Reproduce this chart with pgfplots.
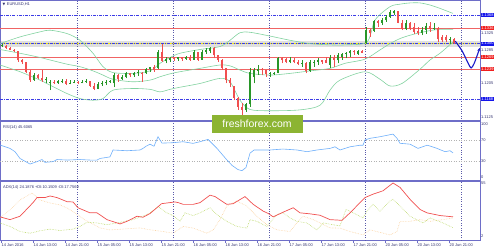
\documentclass[border=0pt]{standalone}
\usepackage{fontspec}
\setmainfont{Liberation Sans}
\newfontfamily\dejavu{DejaVu Sans}
\usepackage{pgfplots}
\pgfplotsset{compat=1.18}
\usepackage{pgfplotstable}
\usetikzlibrary{arrows.meta}

\definecolor{frame}{RGB}{110,110,200}
\definecolor{gridc}{RGB}{90,90,170}
\definecolor{lvlblue}{RGB}{60,60,230}
\definecolor{boxblue}{RGB}{20,20,235}
\definecolor{lvlred}{RGB}{240,100,100}
\definecolor{boxred}{RGB}{240,30,30}
\definecolor{band}{RGB}{130,210,160}
\definecolor{cup}{RGB}{40,150,40}
\definecolor{cdn}{RGB}{240,80,80}
\definecolor{rsic}{RGB}{110,175,250}
\definecolor{adxc}{RGB}{240,80,80}
\definecolor{pdi}{RGB}{185,215,100}
\definecolor{mdi}{RGB}{250,210,160}
\definecolor{txt}{RGB}{50,50,110}
\definecolor{wm}{RGB}{140,180,50}
\definecolor{arrowc}{RGB}{25,25,200}

\def\lbl{\fontsize{4}{4.5}\selectfont}

\pgfplotstableread{
i o h l c
0 1.1294 1.1300 1.1291 1.1297
8 1.1213 1.1229 1.1211 1.1225
11 1.1213 1.1221 1.1205 1.1216
12 1.1205 1.1213 1.1189 1.1208
14 1.1206 1.1214 1.1204 1.1210
15 1.1210 1.1216 1.1205 1.1212
17 1.1204 1.1213 1.1203 1.1207
18 1.1207 1.1213 1.1205 1.1209
20 1.1206 1.1213 1.1205 1.1209
21 1.1209 1.1215 1.1206 1.1211
24 1.1192 1.1209 1.1191 1.1203
25 1.1203 1.1211 1.1200 1.1207
26 1.1207 1.1213 1.1201 1.1209
27 1.1209 1.1214 1.1205 1.1212
28 1.1205 1.1229 1.1196 1.1226
30 1.1216 1.1225 1.1213 1.1220
31 1.1220 1.1233 1.1217 1.1229
33 1.1224 1.1233 1.1221 1.1230
34 1.1230 1.1237 1.1223 1.1232
36 1.1229 1.1241 1.1227 1.1240
37 1.1240 1.1245 1.1233 1.1244
39 1.1241 1.1285 1.1240 1.1280
41 1.1259 1.1269 1.1253 1.1264
42 1.1262 1.1267 1.1256 1.1266
44 1.1263 1.1269 1.1259 1.1267
46 1.1264 1.1270 1.1261 1.1268
48 1.1261 1.1285 1.1261 1.1280
50 1.1262 1.1285 1.1261 1.1280
51 1.1280 1.1289 1.1275 1.1285
52 1.1283 1.1292 1.1277 1.1290
61 1.1142 1.1158 1.1138 1.1155
62 1.1155 1.1241 1.1150 1.1232
63 1.1220 1.1241 1.1205 1.1237
64 1.1235 1.1249 1.1226 1.1240
67 1.1228 1.1233 1.1221 1.1230
68 1.1228 1.1233 1.1225 1.1231
69 1.1231 1.1269 1.1229 1.1265
72 1.1256 1.1269 1.1253 1.1262
75 1.1251 1.1261 1.1245 1.1254
77 1.1235 1.1261 1.1233 1.1255
78 1.1255 1.1261 1.1245 1.1257
79 1.1257 1.1265 1.1249 1.1260
82 1.1250 1.1273 1.1241 1.1265
84 1.1260 1.1277 1.1253 1.1272
85 1.1268 1.1277 1.1261 1.1275
86 1.1275 1.1281 1.1265 1.1278
87 1.1278 1.1285 1.1269 1.1282
89 1.1276 1.1285 1.1273 1.1283
91 1.1302 1.1340 1.1300 1.1332
93 1.1330 1.1356 1.1328 1.1353
95 1.1350 1.1360 1.1344 1.1356
96 1.1356 1.1368 1.1352 1.1364
97 1.1364 1.1380 1.1362 1.1375
98 1.1372 1.1381 1.1369 1.1378
101 1.1336 1.1356 1.1332 1.1348
105 1.1326 1.1340 1.1320 1.1333
106 1.1333 1.1348 1.1324 1.1342
108 1.1334 1.1348 1.1332 1.1338
112 1.1308 1.1316 1.1300 1.1310
}\upc

\pgfplotstableread{
i o h l c
1 1.1295 1.1297 1.1288 1.1290
2 1.1290 1.1292 1.1284 1.1285
3 1.1285 1.1288 1.1280 1.1282
4 1.1282 1.1283 1.1257 1.1260
5 1.1260 1.1263 1.1251 1.1255
6 1.1255 1.1256 1.1229 1.1233
7 1.1233 1.1237 1.1209 1.1213
9 1.1225 1.1227 1.1215 1.1219
10 1.1219 1.1237 1.1209 1.1213
13 1.1208 1.1213 1.1203 1.1206
16 1.1212 1.1215 1.1202 1.1204
19 1.1209 1.1211 1.1203 1.1206
22 1.1211 1.1212 1.1197 1.1199
23 1.1199 1.1205 1.1189 1.1192
29 1.1226 1.1228 1.1209 1.1216
32 1.1229 1.1231 1.1221 1.1224
35 1.1231 1.1232 1.1209 1.1229
38 1.1244 1.1249 1.1233 1.1236
40 1.1280 1.1300 1.1257 1.1259
43 1.1266 1.1267 1.1259 1.1263
45 1.1267 1.1268 1.1259 1.1264
47 1.1268 1.1273 1.1259 1.1261
49 1.1280 1.1281 1.1259 1.1262
53 1.1290 1.1292 1.1265 1.1272
54 1.1272 1.1273 1.1257 1.1262
55 1.1262 1.1263 1.1237 1.1241
56 1.1241 1.1241 1.1205 1.1213
57 1.1213 1.1217 1.1197 1.1205
58 1.1199 1.1200 1.1165 1.1170
59 1.1170 1.1173 1.1142 1.1150
60 1.1150 1.1158 1.1130 1.1142
65 1.1240 1.1241 1.1226 1.1236
66 1.1236 1.1237 1.1221 1.1228
70 1.1265 1.1269 1.1253 1.1262
71 1.1264 1.1265 1.1253 1.1256
73 1.1262 1.1265 1.1253 1.1256
74 1.1256 1.1262 1.1249 1.1251
76 1.1254 1.1257 1.1229 1.1235
80 1.1260 1.1261 1.1251 1.1256
81 1.1262 1.1267 1.1253 1.1254
83 1.1265 1.1273 1.1245 1.1262
88 1.1282 1.1285 1.1273 1.1280
90 1.1283 1.1285 1.1277 1.1278
92 1.1332 1.1336 1.1316 1.1326
94 1.1353 1.1356 1.1340 1.1350
99 1.1378 1.1378 1.1348 1.1350
100 1.1350 1.1356 1.1332 1.1336
102 1.1348 1.1352 1.1332 1.1335
103 1.1340 1.1348 1.1324 1.1328
104 1.1330 1.1340 1.1320 1.1326
107 1.1342 1.1352 1.1328 1.1334
109 1.1338 1.1340 1.1304 1.1310
110 1.1315 1.1320 1.1304 1.1308
111 1.1316 1.1320 1.1304 1.1308
113 1.1312 1.1314 1.1300 1.1302
}\dnc

\pgfplotsset{
  panel/.style={scale only axis, width=480bp, xmin=-0.5, xmax=119.5,
    anchor=south west, clip mode=individual,
    axis line style={draw=frame, line width=0.8bp},
    xtick={18.75,42.75,66.75,90.75,114.75}, xticklabels={},
    xmajorgrids, major grid style={draw=gridc, dotted, line width=0.5bp},
    ytick=\empty, major tick length=0pt},
  lvlb/.style={draw=lvlblue, line width=0.8bp, dash pattern=on 3bp off 1.2bp on 0.8bp off 1.2bp, forget plot},
  lvlr/.style={draw=lvlred, line width=0.8bp, forget plot},
  bandl/.style={draw=band, line width=0.6bp, smooth, forget plot},
}
\tikzset{
  boxl/.style={anchor=west, text=white, font=\lbl, inner sep=0.7bp},
  axl/.style={anchor=west, text=txt, font=\lbl, inner sep=0.5bp},
}

\begin{document}
\begin{tikzpicture}
\useasboundingbox (0,0) rectangle (500bp,250bp);

% ---------------- main price panel ----------------
\begin{axis}[panel, at={(0bp,129bp)}, height=121bp, ymin=1.11155, ymax=1.1404]
\addplot[draw=gray, opacity=0.25, line width=6bp, forget plot] coordinates {(-0.5,1.1300) (119.5,1.1300)};
\addplot[draw=yellow, line width=1.4bp, forget plot] coordinates {(-0.5,1.1300) (119.5,1.1300)};
\addplot[lvlb] coordinates {(-0.5,1.1301) (119.5,1.1301)};
\addplot[lvlb] coordinates {(-0.5,1.1368) (119.5,1.1368)};
\addplot[lvlb] coordinates {(-0.5,1.1168) (119.5,1.1168)};
\addplot[lvlr] coordinates {(-0.5,1.1337) (119.5,1.1337)};
\addplot[lvlr] coordinates {(-0.5,1.1268) (119.5,1.1268)};
\addplot[lvlr] coordinates {(-0.5,1.1239) (119.5,1.1239)};
% Bollinger bands
\addplot[bandl] coordinates {(-0.5,1.1300)(4.5,1.1316)(9.5,1.1328)(12,1.1332)(16.25,1.1324)(19.5,1.1308)(22.75,1.1277)(25.25,1.1245)(27.75,1.1231)(32.75,1.1229)(37,1.1235)(39.5,1.1253)(42,1.1267)(44.5,1.1277)(49.5,1.1286)(54.5,1.1293)(57,1.1308)(59.5,1.1326)(62,1.1327)(67,1.1318)(72,1.1308)(77,1.1300)(82,1.1297)(85.75,1.1297)(91.25,1.1304)(93.25,1.1356)(97,1.1388)(99.5,1.1394)(102,1.1397)(104.5,1.1397)(107,1.1392)(109.5,1.1384)(112.75,1.1372)};
\addplot[bandl] coordinates {(-0.5,1.1286)(4.5,1.1277)(9.5,1.1267)(12,1.1261)(16.25,1.1251)(19.5,1.1245)(22.75,1.1235)(25.25,1.1225)(27.75,1.1215)(32.75,1.1209)(37,1.1213)(39.5,1.1221)(42,1.1228)(44.5,1.1233)(49.5,1.1241)(54.5,1.1249)(57,1.1247)(59.5,1.1237)(62,1.1229)(67,1.1225)(72,1.1229)(77,1.1235)(82,1.1241)(85.75,1.1253)(90.75,1.1263)(94.5,1.1285)(97,1.1300)(99.5,1.1312)(102,1.1320)(104.5,1.1326)(107,1.1331)(109.5,1.1334)(112.75,1.1334)};
\addplot[bandl] coordinates {(-0.5,1.1249)(4.5,1.1233)(9.5,1.1213)(12,1.1201)(16.25,1.1181)(19.5,1.1169)(22.75,1.1165)(25.25,1.1169)(27.75,1.1189)(32.75,1.1193)(37,1.1191)(39.5,1.1185)(42,1.1191)(44.5,1.1196)(49.5,1.1205)(54.5,1.1217)(57,1.1209)(59.5,1.1165)(62,1.1143)(67,1.1140)(74.5,1.1142)(79.5,1.1153)(82,1.1189)(84.5,1.1213)(90.75,1.1233)(94.5,1.1215)(97,1.1199)(100,1.1205)(104.5,1.1239)(107,1.1261)(109.5,1.1277)(112.75,1.1304)};
% candles: wicks
\addplot[draw=none, mark=none, forget plot, error bars/.cd, y dir=plus, y explicit, error mark=none,
  error bar style={draw=cup, line width=0.55bp}] table[x=i, y=l, y error expr=\thisrow{h}-\thisrow{l}] {\upc};
\addplot[draw=none, mark=none, forget plot, error bars/.cd, y dir=plus, y explicit, error mark=none,
  error bar style={draw=cdn, line width=0.55bp}] table[x=i, y=l, y error expr=\thisrow{h}-\thisrow{l}] {\dnc};
% candles: bodies
\addplot[draw=none, mark=none, forget plot, error bars/.cd, y dir=plus, y explicit, error mark=none,
  error bar style={draw=cup, line width=1.7bp}] table[x=i, y=o, y error expr=\thisrow{c}-\thisrow{o}] {\upc};
\addplot[draw=none, mark=none, forget plot, error bars/.cd, y dir=plus, y explicit, error mark=none,
  error bar style={draw=cdn, line width=1.7bp}] table[x=i, y=c, y error expr=\thisrow{o}-\thisrow{c}] {\dnc};
% forecast arrow
\addplot[draw=arrowc, line width=1.1bp, smooth, -{Stealth[length=3.5bp,width=3bp]}] coordinates {(113.3,1.1306) (115,1.1283) (116.6,1.1252) (117.3,1.1242) (118,1.1252) (118.8,1.1272) (119.45,1.1290)};
% right labels
\node[axl] at (axis cs:119.6,1.1325) {1.1325};
\node[axl] at (axis cs:119.6,1.1285) {1.1285};
\node[axl] at (axis cs:119.6,1.1205) {1.1205};
\node[axl] at (axis cs:119.6,1.1125) {1.1125};
\node[boxl, fill=boxblue] at (axis cs:119.6,1.1368) {1.1368};
\node[boxl, fill=boxred] at (axis cs:119.6,1.1337) {1.1336};
\node[boxl, fill=boxblue] at (axis cs:119.6,1.1300) {1.1300};
\node[boxl, fill=boxred] at (axis cs:119.6,1.1268) {1.1269};
\node[boxl, fill=boxred] at (axis cs:119.6,1.1239) {1.1239};
\node[boxl, fill=boxblue] at (axis cs:119.6,1.1168) {1.1168};
\node[anchor=north west, text=txt, font=\lbl, inner sep=0pt] at ([yshift=-3bp]rel axis cs:0,1) {\hspace{2.5bp}{\dejavu\fontsize{3.5}{4}\selectfont ▼}\hspace{1.5bp}EURUSD,H1};
\end{axis}

% ---------------- RSI panel ----------------
\begin{axis}[panel, at={(0bp,69bp)}, height=60bp, ymin=-7.5, ymax=105.7]
\addplot[draw=gray!60, dotted, line width=0.5bp, forget plot] coordinates {(-0.5,70) (119.5,70)};
\addplot[draw=gray!60, dotted, line width=0.5bp, forget plot] coordinates {(-0.5,30) (119.5,30)};
\addplot[draw=rsic, line width=0.6bp] coordinates {(-0.5,60.4)(2,54)(3.25,47.8)(4.5,35)(7,24.5)(8.75,29)(10,33)(10.75,27.7)(12.75,29)(13.75,33)(16.25,32)(19.5,33)(22,32)(23.75,32)(24.5,35)(27,38)(27.75,51)(31.25,49.6)(34.5,51)(35.25,54)(36,58)(37,62)(38,58)(39,76)(40,64)(42.75,64.7)(45.25,66.6)(47.75,63.5)(49.5,66.6)(51.5,71)(53.75,54)(56.25,32)(57.5,22)(59,14)(60,12)(61,18)(62,45)(63,51)(67,51)(70.25,52.8)(73.75,51)(76.25,47.8)(78.75,51)(82,54)(83.25,57)(84.5,51)(87,57)(89.5,60)(90.25,60)(90.75,70)(92,73)(94.5,76)(97.75,81)(98.75,73)(99.5,63.6)(102,62)(104,54)(106.25,60)(107,58.5)(108.75,54)(110.75,47.8)(112,49.6)(112.75,45.6)};
\node[axl] at (axis cs:119.6,100) {100};
\node[axl] at (axis cs:119.6,70) {70};
\node[axl] at (axis cs:119.6,30) {30};
\node[axl] at (axis cs:119.6,0) {0};
\node[anchor=north west, text=txt, font=\lbl, inner sep=0pt] at ([xshift=3bp,yshift=-4bp]rel axis cs:0,1) {RSI(14) 45.6065};
\end{axis}

% ---------------- ADX panel ----------------
\begin{axis}[panel, at={(0bp,10bp)}, height=59bp, ymin=-2.1, ymax=57,
  xmajorgrids=false,
  xtick={-0.25,7.75,15.75,23.75,31.75,39.75,47.75,55.75,63.75,71.75,79.75,87.75,95.75,103.75,111.75},
  xticklabels={14 Jun 2016,14 Jun 13:00,14 Jun 21:00,15 Jun 05:00,15 Jun 13:00,15 Jun 21:00,16 Jun 05:00,16 Jun 13:00,16 Jun 21:00,17 Jun 05:00,17 Jun 13:00,17 Jun 21:00,20 Jun 05:00,20 Jun 13:00,20 Jun 21:00},
  xticklabel style={anchor=north west, font=\lbl, text=txt, inner sep=0.5bp, yshift=-0.5bp},
  xtick pos=bottom, tick align=outside, major tick length=2.5bp, tick style={draw=frame, line width=0.5bp},
  extra x ticks={18.75,42.75,66.75,90.75,114.75}, extra x tick labels={},
  extra x tick style={grid=major, major tick length=0pt}]
\addplot[draw=mdi, densely dotted, line width=0.6bp] coordinates {(-0.5,20)(2,28)(4.5,38)(7.5,45)(9.5,38)(12,35)(14.5,33)(16.25,30)(18.25,25)(20.75,18)(24.5,10)(27,8)(30.75,9)(34.5,10)(37,8.1)(40.3,6.4)(42.8,4.7)(45.3,11.5)(47.8,9.8)(51.2,4.7)(52.8,8.1)(54.5,18.3)(56.2,31.9)(58.7,37)(61.2,31.9)(63.7,21.7)(66.2,13.2)(68.7,8.1)(72,6.4)(73.7,15)(75.3,21.7)(77.8,18.3)(79.5,15)(82,10)(84.5,9.8)(87,6.4)(90.25,3)(92,8.1)(97,3)(98.75,6.4)(99.5,16.6)(102,16.6)(104.5,18.3)(107,16.6)(110.25,18.3)(112.75,20)};
\addplot[draw=pdi, densely dotted, line width=0.6bp] coordinates {(-0.5,15)(2,11.5)(4.5,6.4)(7,4.7)(9.5,7.1)(12,8.8)(14.5,7.4)(17.75,8.8)(19.5,11.5)(21.25,15.6)(23.75,15)(26.25,13.2)(29.5,15.6)(32.75,18.3)(36.25,23.4)(37,25.1)(39.1,31.3)(41.2,25.1)(42.8,22.4)(44.5,16.6)(45.75,25.1)(47.8,22.4)(49.5,25.1)(52,30.2)(53.7,23.4)(56.2,16.6)(58.7,11.5)(61.2,9.8)(62,18.3)(63.7,16.6)(66.2,11.5)(68.7,23.4)(70.3,25.1)(72,20)(73.7,16.6)(76.2,15)(78.7,8.1)(80.3,15)(82.8,13.2)(84.5,12)(86,28.5)(87,26.8)(90.25,20)(91.25,26.8)(92.75,33.6)(94.5,26.8)(97,37)(97.75,38.7)(99.5,31.9)(102,21.7)(105.25,15)(107,20)(110.25,15)(112.75,10.2)};
\addplot[draw=adxc, line width=0.7bp] coordinates {(-0.5,21.1)(2,18.3)(4.5,21.7)(7.75,35.3)(8.75,40.4)(10.75,40.4)(12,42)(13.75,40.4)(16.25,36.3)(17.75,36)(19,30.2)(22,25.1)(23.75,25.1)(26.25,18.3)(29.5,14)(31.25,16.6)(33.75,21.7)(35.25,20.7)(37,24.4)(39.9,34.3)(43.25,36)(44.1,35.3)(45.3,33.6)(47.8,33.6)(49.5,35.3)(52,42.8)(53.25,41.4)(56.2,33.6)(57.8,34.3)(60.75,41.4)(62.8,33.6)(65.3,26.8)(66.6,24.4)(67.8,21.1)(70.3,25.8)(72.8,30.2)(74.5,25.1)(77,24.1)(79.5,22.7)(82,18.3)(85,17.6)(87,25.1)(90.75,40.4)(92.75,43.8)(95.25,47.2)(97.75,55)(99.5,50.6)(102,38.7)(104.5,28.5)(106.25,25.1)(109.5,22.4)(112.75,21.1)};
\node[axl] at (axis cs:119.6,55) {55};
\node[axl] at (axis cs:119.6,2) {2};
\node[anchor=north west, text=txt, font=\lbl, inner sep=0pt] at ([xshift=3bp,yshift=-4bp]rel axis cs:0,1) {ADX(14) 24.1876 +DI:10.1509 -DI:17.7569};
\end{axis}

% panel separators
\draw[frame, line width=2bp] (0,129bp) -- (480bp,129bp);
\draw[frame, line width=2bp] (0,69bp) -- (480bp,69bp);
% watermark
\node[fill=wm, text=white, font=\fontsize{10.5}{12}\selectfont, minimum width=91bp, minimum height=18bp, inner sep=0pt] at (257bp,126bp) {freshforex.com};
\end{tikzpicture}
\end{document}
